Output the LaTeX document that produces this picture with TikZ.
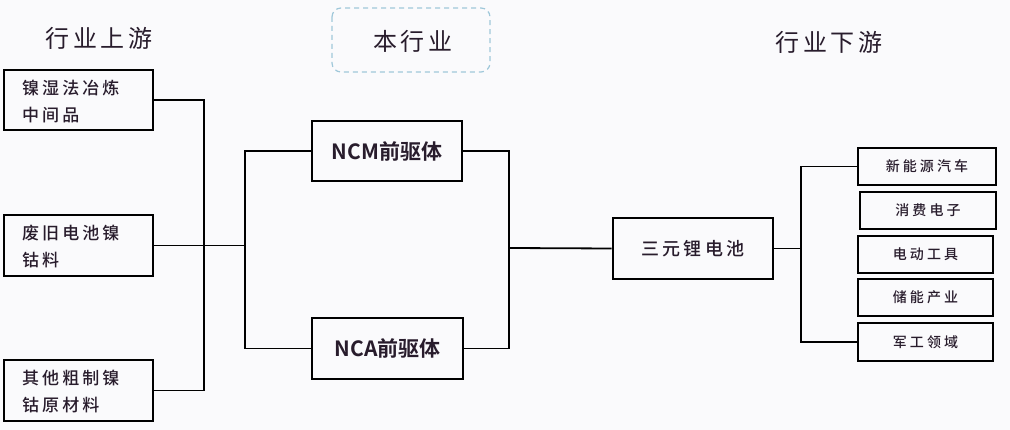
\documentclass[tikz,border=0pt]{standalone}
\usepackage{fontspec}
\newfontfamily\cjk[LetterSpace=18]{Noto Sans CJK SC Medium}
\newfontfamily\cjkt[LetterSpace=16]{Noto Sans CJK SC}
\newfontfamily\cjkb[BoldFont={Noto Sans CJK SC Bold}]{Noto Sans CJK SC}
\newfontfamily\cjks[LetterSpace=22]{Noto Sans CJK SC Medium}
\definecolor{bg}{RGB}{250,250,252}
\definecolor{txt}{RGB}{40,28,44}
\definecolor{dashblue}{RGB}{160,200,218}
\begin{document}
\begin{tikzpicture}[x=1pt,y=-1pt,
  box/.style={draw=black,line width=2.6pt,inner sep=0pt,text=txt},
  conn/.style={draw=black,line width=1.8pt},
  title/.style={text=txt,font=\cjkt\fontsize{24}{28}\selectfont,inner sep=0pt},
  upbox/.style={box,minimum width=149pt,minimum height=60pt},
  uptext/.style={text=txt,align=left,anchor=west,inner sep=0pt,font=\cjk\fontsize{17}{27}\selectfont},
  midbox/.style={box,minimum width=150pt,minimum height=60pt,font=\cjkb\bfseries\fontsize{21}{24}\selectfont},
  dnbox/.style={box,minimum height=37pt,font=\cjks\fontsize{14}{16}\selectfont}
]
\fill[bg] (0,0) rectangle (1010,430);
\useasboundingbox (0,0) rectangle (1010,430);

% titles
\node[title] (t1) at (99,38) {行业上游};
\draw[dashblue,line width=1.2pt,dash pattern=on 5pt off 4pt,rounded corners=9pt] (332,8) rectangle (490,72);
\node[title] (t2) at (413,41) {本行业};
\node[title] (t3) at (829,42) {行业下游};

% upstream boxes
\node[upbox] (u1) at (78.5,100) {};
\node[upbox,minimum height=61pt] (u2) at (78.5,245.5) {};
\node[upbox,minimum height=61pt] (u3) at (78.5,390.5) {};
\node[uptext] (u1t) at (22,101.5) {镍湿法冶炼\\中间品};
\node[uptext] (u2t) at (22,246.5) {废旧电池镍\\钴料};
\node[uptext] (u3t) at (22,391.5) {其他粗制镍\\钴原材料};

% middle
\node[midbox] (ncm) at (387,151) {NCM前驱体};
\node[midbox,minimum width=151pt,minimum height=61pt] (nca) at (387.5,348.5) {NCA前驱体};

\node[box,minimum width=160pt,minimum height=61pt,font=\cjk\fontsize{18}{20}\selectfont] (sy) at (693,248.5) {三元锂电池};

% downstream
\node[dnbox,minimum width=138pt] (d1) at (927,166.5) {新能源汽车};
\node[dnbox,minimum width=136pt] (d2) at (928,210.5) {消费电子};
\node[dnbox,minimum width=135pt] (d3) at (925.5,254.5) {电动工具};
\node[dnbox,minimum width=135pt] (d4) at (925.5,297.5) {储能产业};
\node[dnbox,minimum width=135pt,minimum height=38pt] (d5) at (925.5,342) {军工领域};

% connectors
\coordinate (bu) at (204,245.5);
\coordinate (bm) at (245,245.5);
\coordinate (bm2) at (509,248);
\coordinate (bd) at (801,248.5);
\draw[conn] (u1.east) -| (bu) |- (u3.east);
\draw[conn] (u2.east) -- (bu) -- (bm);
\draw[conn] (ncm.west) -| (bm) |- (nca.west);
\draw[conn] (ncm.east) -| (bm2) |- (nca.east);
\draw[conn] (bm2) -- (sy.west);
\draw[conn] (sy.east) -- (bd);
\draw[conn] (d1.west) -| (bd) |- (d5.west);
\end{tikzpicture}
\end{document}
